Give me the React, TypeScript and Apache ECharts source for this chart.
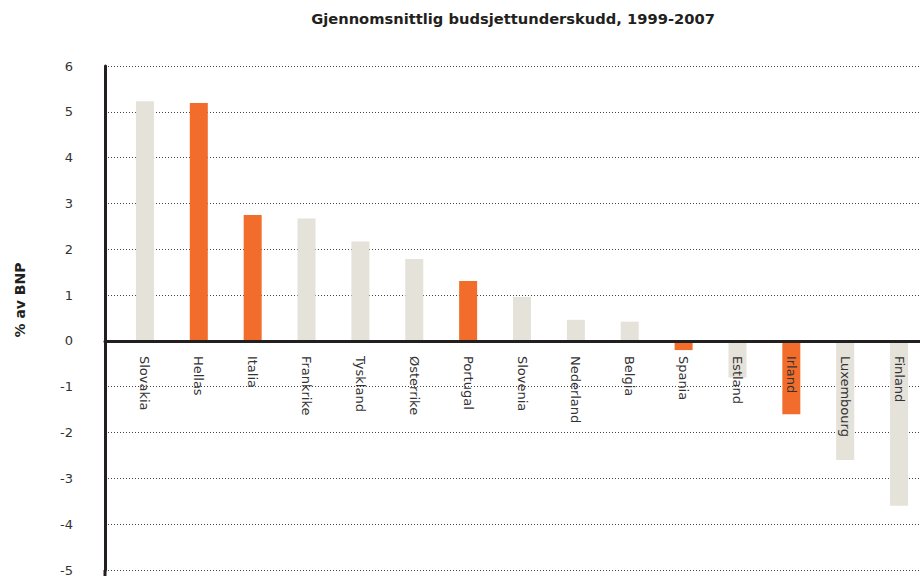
import React, { useEffect, useRef } from "react";
import * as echarts from "echarts";

const TITLE = "Gjennomsnittlig budsjettunderskudd, 1999-2007";
const Y_NAME = "% av BNP";
const categories = [
  "Slovakia", "Hellas", "Italia", "Frankrike", "Tyskland", "Østerrike", "Portugal",
  "Slovenia", "Nederland", "Belgia", "Spania", "Estland", "Irland", "Luxembourg", "Finland",
];
const values = [5.23, 5.19, 2.75, 2.67, 2.17, 1.79, 1.31, 0.96, 0.46, 0.42, -0.2, -0.8, -1.6, -2.6, -3.6];
const highlighted = ["Hellas", "Italia", "Portugal", "Spania", "Irland"];
const Y_MIN = -5;
const Y_MAX = 6;

const GREY = "#E5E2DA";
const ORANGE = "#F26D2B";
const FONT = "'DejaVu Sans', 'Noto Sans', sans-serif";

export default function App() {
  const ref = useRef<HTMLDivElement>(null);
  useEffect(() => {
    if (!ref.current) return;
    const chart = echarts.init(ref.current, undefined, { renderer: "svg" });
    const top = 66;
    const bottom = 6;
    const plotH = 576 - top - bottom;
    // distance from bottom edge of plot up to the zero line
    const zeroOffset = (plotH * (0 - Y_MIN)) / (Y_MAX - Y_MIN);
    chart.setOption({
      animation: false,
      backgroundColor: "#ffffff",
      textStyle: { fontFamily: FONT },
      grid: [
        { left: 105, right: 0, top, bottom, containLabel: false, outerBoundsMode: "none" },
        { left: 118, right: -6, top, bottom, containLabel: false, outerBoundsMode: "none" },
      ],
      xAxis: [
        {
          gridIndex: 0,
          type: "value",
          min: 0,
          max: 1,
          z: 8,
          axisLine: { show: true, onZero: true, lineStyle: { color: "#231f20", width: 3 } },
          axisTick: { show: false },
          axisLabel: { show: false },
          splitLine: { show: false },
        },
        {
          gridIndex: 1,
          type: "category",
          data: categories,
          position: "bottom",
          offset: -zeroOffset,
          z: 10,
          axisLine: { show: false, onZero: false },
          axisTick: { show: false },
          axisLabel: {
            interval: 0,
            rotate: -90,
            margin: 15,
            fontSize: 13,
            color: "#333",
            fontFamily: FONT,
          },
        },
      ],
      yAxis: [
        {
          gridIndex: 0,
          type: "value",
          min: Y_MIN,
          max: Y_MAX,
          interval: 1,
          axisLine: { show: true, lineStyle: { color: "#231f20", width: 3 } },
          axisTick: { show: false },
          axisLabel: {
            margin: 32,
            fontSize: 13,
            color: "#333",
            fontFamily: FONT,
          },
          splitLine: { show: true, lineStyle: { color: "#444", width: 1, type: [1, 2] } },
        },
        {
          gridIndex: 1,
          type: "value",
          min: Y_MIN,
          max: Y_MAX,
          interval: 1,
          axisLine: { show: false },
          axisTick: { show: false },
          axisLabel: { show: false },
          splitLine: { show: false },
        },
      ],
      graphic: [
        {
          type: "line",
          shape: { x1: 105, y1: 570, x2: 105, y2: 576 },
          style: { stroke: "#231f20", lineWidth: 3 },
        },
        {
          type: "text",
          x: 513,
          y: 18,
          style: {
            text: TITLE,
            fontSize: 14.7,
            fontWeight: "bold",
            fontFamily: FONT,
            fill: "#231f20",
            textAlign: "center",
            textVerticalAlign: "middle",
          },
        },
        {
          type: "text",
          x: 20,
          y: 300,
          rotation: Math.PI / 2,
          style: {
            text: Y_NAME,
            fontSize: 14,
            fontWeight: "bold",
            fontFamily: FONT,
            fill: "#231f20",
            textAlign: "center",
            textVerticalAlign: "middle",
          },
        },
      ],
      series: [
        {
          type: "bar",
          xAxisIndex: 1,
          yAxisIndex: 1,
          barWidth: 18,
          z: 2,
          data: values.map((v, i) => ({
            value: v,
            itemStyle: { color: highlighted.includes(categories[i]) ? ORANGE : GREY },
          })),
        },
      ],
    });
    return () => chart.dispose();
  }, []);
  return <div ref={ref} style={{ position: "fixed", left: 0, top: 0, width: 920, height: 576 }} />;
}
